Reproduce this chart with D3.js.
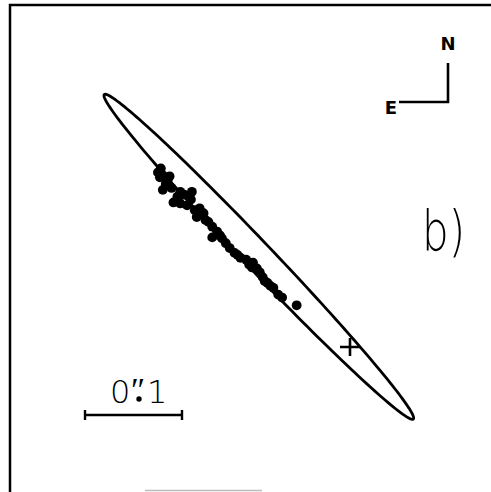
<!DOCTYPE html>
<html lang="en">
<head>
<meta charset="utf-8">
<title>b)</title>
<script src="https://cdn.jsdelivr.net/npm/d3@7"></script>
<style>
  body { margin: 0; background: #fff; }
  svg { display: block; }
</style>
</head>
<body>
<script>
// offsets in mas from the cross, east counts to the left
var dotsEast  = [198, 193, 188, 195, 190, 193, 184, 175, 163, 182, 178, 175, 168, 164, 155, 158, 151, 149, 142, 137,
                 142, 132, 128, 124, 119, 113, 107, 100, 101, 96, 93, 90, 85, 79, 74, 70, 55,
                 196, 186, 171, 160, 146, 134, 116, 104, 88, 82];
var dotsNorth = [180, 177, 172, 184, 168, 162, 164, 160, 160, 149, 155, 148, 146, 152, 143, 134, 138, 131, 124, 119,
                 113, 112, 107, 102, 97, 92, 90, 87, 82, 81, 77, 72, 66, 61, 54, 51, 43,
                 175, 176, 157, 141, 129, 115, 95, 85, 68, 63];

var ellipseCenter = [94, 93];   // E, N
var ellipseAxes = [231, 14.5];  // semi-major, semi-minor
var ellipsePA = 43.6;           // degrees, N through E
var crossPos = [0, 0];
var scaleBarMas = 100;

var width = 491, height = 492;

var x = d3.scaleLinear().domain([0, 100]).range([350, 253]);
var y = d3.scaleLinear().domain([0, 100]).range([347, 250]);

var svg = d3.select("body").append("svg")
    .attr("width", width)
    .attr("height", height);

svg.append("rect").attr("width", width).attr("height", height).attr("fill", "#fff");

// frame (picture is cut on the right and bottom)
svg.append("path")
    .attr("d", "M10,492V5H491")
    .attr("fill", "none")
    .attr("stroke", "#000")
    .attr("stroke-width", 2.5);
svg.append("line")
    .attr("x1", 145).attr("x2", 262).attr("y1", 490.5).attr("y2", 490.5)
    .attr("stroke", "#bbb").attr("stroke-width", 1.5);

// error ellipse
var pa = ellipsePA * Math.PI / 180,
    u = [Math.sin(pa), Math.cos(pa)],
    v = [Math.cos(pa), -Math.sin(pa)];
var ring = d3.range(0, 361, 2).map(function(deg) {
  var t = deg * Math.PI / 180,
      a = ellipseAxes[0] * Math.cos(t),
      b = ellipseAxes[1] * Math.sin(t);
  return [ellipseCenter[0] + a * u[0] + b * v[0], ellipseCenter[1] + a * u[1] + b * v[1]];
});
svg.append("path")
    .datum(ring)
    .attr("d", d3.line().x(function(d) { return x(d[0]); }).y(function(d) { return y(d[1]); }).curve(d3.curveLinearClosed))
    .attr("fill", "none")
    .attr("stroke", "#000")
    .attr("stroke-width", 2.8);

// dots
svg.selectAll("circle.dot")
    .data(dotsEast.map(function(e, i) { return [e, dotsNorth[i]]; }))
  .enter().append("circle")
    .attr("class", "dot")
    .attr("cx", function(d) { return x(d[0]); })
    .attr("cy", function(d) { return y(d[1]); })
    .attr("r", 4.9)
    .attr("fill", "#000");

// cross
var cx = x(crossPos[0]), cy = y(crossPos[1]);
svg.append("path")
    .attr("d", "M" + (cx - 10) + "," + cy + "H" + (cx + 10) + "M" + cx + "," + (cy - 9) + "V" + (cy + 9))
    .attr("stroke", "#000")
    .attr("stroke-width", 2.6);

// compass
svg.append("path")
    .attr("d", "M448,63V102H399")
    .attr("fill", "none")
    .attr("stroke", "#000")
    .attr("stroke-width", 2.6);
svg.append("text").attr("x", 448).attr("y", 50).attr("text-anchor", "middle")
    .attr("font-family", "DejaVu Sans").attr("font-weight", "bold").attr("font-size", 18).text("N");
svg.append("text").attr("x", 391).attr("y", 114).attr("text-anchor", "middle")
    .attr("font-family", "DejaVu Sans").attr("font-weight", "bold").attr("font-size", 18).text("E");

// panel label
svg.append("text").attr("x", 422).attr("y", 250)
    .attr("textLength", 43).attr("lengthAdjust", "spacingAndGlyphs")
    .attr("font-family", "DejaVu Sans").attr("font-weight", 200).attr("font-size", 56).text("b)");

// scale bar
var x0 = 85, x1 = x0 + (x(0) - x(scaleBarMas)), yb = 415;
svg.append("path")
    .attr("d", "M" + x0 + "," + yb + "H" + x1 + "M" + x0 + "," + (yb - 5) + "V" + (yb + 5) + "M" + x1 + "," + (yb - 5) + "V" + (yb + 5))
    .attr("fill", "none")
    .attr("stroke", "#000")
    .attr("stroke-width", 2.4);
var lab = svg.append("g").attr("font-family", "DejaVu Sans").attr("font-size", 32).attr("font-weight", 300);
lab.append("text").attr("x", 110).attr("y", 403).text("0");
lab.append("text").attr("x", 131).attr("y", 401).attr("font-size", 34).text("″");
lab.append("circle").attr("cx", 139).attr("cy", 399).attr("r", 2.7).attr("fill", "#000");
lab.append("text").attr("x", 147).attr("y", 403).text("1");
</script>
</body>
</html>
